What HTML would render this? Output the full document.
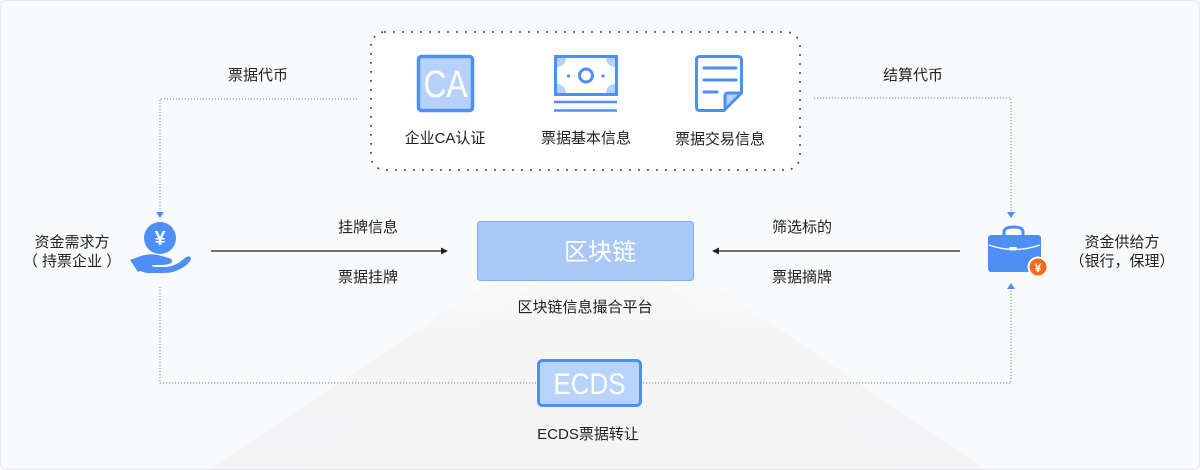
<!DOCTYPE html>
<html>
<head>
<meta charset="utf-8">
<style>
  html,body{margin:0;padding:0;background:#fff;}
  body{width:1200px;height:470px;overflow:hidden;}
  svg{display:block;}
  text{font-family:"Liberation Sans","Noto Sans CJK SC",sans-serif;}
</style>
</head>
<body>
<svg width="1200" height="470" viewBox="0 0 1200 470" xmlns="http://www.w3.org/2000/svg">
  <defs>
    <linearGradient id="tri" x1="0" y1="0" x2="0" y2="1">
      <stop offset="0" stop-color="#f9fafb" stop-opacity="0"/>
      <stop offset="0.4" stop-color="#f4f4f5" stop-opacity="1"/>
      <stop offset="1" stop-color="#f3f3f4" stop-opacity="1"/>
    </linearGradient>
  </defs>
  <!-- background -->
  <rect x="0.5" y="0.5" width="1199" height="469" rx="6" fill="#f9fafb" stroke="#e6e7ea"/>
  <polygon points="210,469 545,245 655,245 985,469" fill="url(#tri)" opacity="0.8"/>
  <polygon points="300,469 565,260 635,260 900,469" fill="#f5f5f6" opacity="0.4"/>

  <!-- dotted top box -->
  <rect x="371" y="32" width="429" height="138" rx="14" fill="#fefefe" stroke="#444" stroke-width="2" stroke-dasharray="0 9" stroke-linecap="round"/>

  <!-- CA icon -->
  <rect x="418.5" y="56.5" width="54" height="54" rx="3" fill="#b7d2fa" stroke="#4d8ff5" stroke-width="3.5"/>
  <text x="445.5" y="97" font-size="38" fill="#fff" text-anchor="middle" textLength="44" lengthAdjust="spacingAndGlyphs">CA</text>

  <!-- bill icon -->
  <rect x="555.5" y="56.5" width="61" height="38" fill="#fff" stroke="#4d8ff5" stroke-width="3"/>
  <path d="M557 58 h9 a9 9 0 0 1 -9 9 z" fill="#b7d2fa"/>
  <path d="M615 58 h-9 a9 9 0 0 0 9 9 z" fill="#b7d2fa"/>
  <path d="M557 93 h9 a9 9 0 0 0 -9 -9 z" fill="#b7d2fa"/>
  <path d="M615 93 h-9 a9 9 0 0 1 9 -9 z" fill="#b7d2fa"/>
  <circle cx="586" cy="75.5" r="6.5" fill="none" stroke="#4d8ff5" stroke-width="3"/>
  <circle cx="568.5" cy="76" r="1.6" fill="#4d8ff5"/>
  <circle cx="603" cy="76" r="1.6" fill="#4d8ff5"/>
  <line x1="554" y1="102" x2="617" y2="102" stroke="#4d8ff5" stroke-width="2.5"/>
  <line x1="554" y1="110.5" x2="617" y2="110.5" stroke="#4d8ff5" stroke-width="2.5"/>

  <!-- doc icon -->
  <path d="M725 110 L742 93 H728 Q725 93 725 96 Z" fill="#b7d2fa"/>
  <path d="M700 56.5 H738 Q741.5 56.5 741.5 60 V93 L724 110.5 H700 Q696.5 110.5 696.5 107 V60 Q696.5 56.5 700 56.5 Z" fill="none" stroke="#4d8ff5" stroke-width="3" stroke-linejoin="round"/>
  <path d="M741.5 93 H728 Q725 93 725 96 V110" fill="none" stroke="#4d8ff5" stroke-width="3" stroke-linejoin="round"/>
  <line x1="704" y1="68" x2="736" y2="68" stroke="#4d8ff5" stroke-width="3" stroke-linecap="round"/>
  <line x1="704" y1="80" x2="736" y2="80" stroke="#4d8ff5" stroke-width="3" stroke-linecap="round"/>
  <line x1="704" y1="92" x2="717" y2="92" stroke="#4d8ff5" stroke-width="3" stroke-linecap="round"/>

  <!-- labels -->
  <g font-size="15" fill="#222" text-anchor="middle">
    <text x="445" y="143">企业CA认证</text>
    <text x="586" y="143">票据基本信息</text>
    <text x="720" y="144">票据交易信息</text>
    <text x="258" y="80">票据代币</text>
    <text x="913" y="80">结算代币</text>
    <text x="72" y="247">资金需求方</text>
    <text x="72" y="266" xml:space="preserve">（ 持票企业 ）</text>
    <text x="368" y="232">挂牌信息</text>
    <text x="368" y="282">票据挂牌</text>
    <text x="802" y="232">筛选标的</text>
    <text x="802" y="282">票据摘牌</text>
    <text x="1122" y="247">资金供给方</text>
    <text x="1122" y="266">（银行，保理）</text>
    <text x="585" y="312">区块链信息撮合平台</text>
    <text x="588" y="439">ECDS票据转让</text>
  </g>

  <!-- dotted connectors -->
  <g fill="none" stroke="#9a9a9a" stroke-width="1.2" stroke-dasharray="1.2 1.8">
    <polyline points="357,99 160,99 160,211"/>
    <polyline points="814,98 1011,98 1011,211"/>
    <polyline points="160,287 160,383 536,383"/>
    <polyline points="643,383 1011,383 1011,290"/>
  </g>
  <!-- blue arrowheads -->
  <polygon points="156,212 164,212 160,218" fill="#4d8ff5"/>
  <polygon points="1007,212 1015,212 1011,218" fill="#4d8ff5"/>
  <polygon points="1007,289 1015,289 1011,283" fill="#4d8ff5"/>

  <!-- solid arrows -->
  <line x1="211" y1="251" x2="442" y2="251" stroke="#222" stroke-width="1.2"/>
  <polygon points="441,247.5 448,251 441,254.5" fill="#222"/>
  <line x1="718" y1="251" x2="960" y2="251" stroke="#222" stroke-width="1.2"/>
  <polygon points="719,247.5 712,251 719,254.5" fill="#222"/>

  <!-- blockchain block -->
  <rect x="477.5" y="221.5" width="216" height="59" rx="3" fill="#a9c8f6" stroke="#7eaef6" stroke-width="1"/>
  <text x="600" y="260" font-size="24" fill="#fff" text-anchor="middle">区块链</text>

  <!-- ECDS box -->
  <rect x="538.5" y="360.5" width="102" height="45" rx="4" fill="#b8d4fb" stroke="#4d8ff5" stroke-width="3"/>
  <text x="589.5" y="394" font-size="30" fill="#fff" text-anchor="middle" textLength="72" lengthAdjust="spacingAndGlyphs">ECDS</text>

  <!-- money hand icon -->
  <circle cx="160" cy="238" r="16" fill="#4d8ff5"/>
  <text x="160" y="245" font-size="20" font-weight="bold" fill="#fff" text-anchor="middle">¥</text>
  <path d="M130 260 L141 256 Q150 253 158 255 L169 258 Q174 260 171 263 Q168 265 160 265 L152 265 Q152 267 156 267 L166 267 Q174 266 180 262 L186 257 Q191 255 191 259 Q189 264 182 268 Q174 273 164 273 L147 273 Q143 272 140 271 L138 272 Z" fill="#4d8ff5"/>

  <!-- briefcase icon -->
  <path d="M1004 236 V232 Q1004 227 1014 227 Q1023 227 1023 232 V236" fill="none" stroke="#4d8ff5" stroke-width="3"/>
  <rect x="988" y="235" width="53" height="37" rx="3" fill="#4d8ff5"/>
  <path d="M989 245 Q1014 254 1040 245" fill="none" stroke="#fff" stroke-width="1.3"/>
  <rect x="1009" y="247" width="8" height="3.5" rx="1.7" fill="#fff"/>
  <circle cx="1038" cy="267" r="9.5" fill="#f26a1b" stroke="#fff" stroke-width="2"/>
  <text x="1038" y="272" font-size="12" font-weight="bold" fill="#fff" text-anchor="middle">¥</text>
</svg>
</body>
</html>
